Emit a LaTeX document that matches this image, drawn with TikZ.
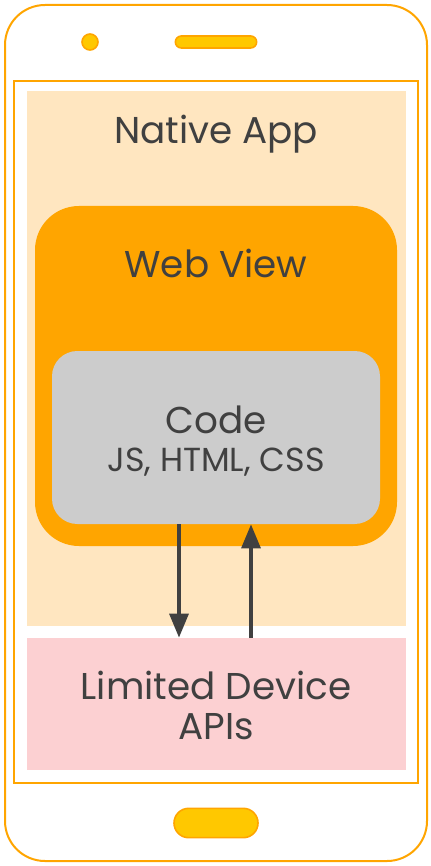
\documentclass[tikz,border=0pt]{standalone}
\usepackage{fontspec}
\setmainfont{Poppins}
\usepackage{tikz}
\usetikzlibrary{arrows.meta, calc, positioning}

\definecolor{phoneorange}{HTML}{FFA500}
\definecolor{appbg}{HTML}{FFE6C0}
\definecolor{codegray}{HTML}{CCCCCC}
\definecolor{apipink}{HTML}{FCD0D2}
\definecolor{btnyellow}{HTML}{FFC800}
\definecolor{txtgray}{HTML}{404040}

\tikzset{
    box/.style={rectangle, draw=none, inner sep=0pt},
    label/.style={text=txtgray, font=\fontsize{28}{32}\selectfont},
    small/.style={text=txtgray, font=\fontsize{25}{29}\selectfont},
    knob/.style={fill=btnyellow, draw=phoneorange, line width=1.2pt},
    flow/.style={draw=txtgray, line width=3pt, -{Triangle[width=14pt, length=18pt]}}
}

\begin{document}
\begin{tikzpicture}[x=0.75pt, y=-0.75pt]
                        \useasboundingbox (0,0) rectangle (431,866);
                        \draw[phoneorange, line width=1.5pt, rounded corners=30pt]
                        (5,5) rectangle (427,861);
                        \draw[phoneorange, line width=1.5pt] (14,81) rectangle (418,783);
                        \node[box, fill=appbg, minimum width=284.25pt, minimum height=401.25pt] (app) at (216.5,358.5) {};
                        \node[box, fill=phoneorange, rounded corners=33pt, minimum width=271.5pt, minimum height=255pt] (web) at (216,376) {};
                        \node[box, fill=codegray, rounded corners=19pt, minimum width=246pt, minimum height=129.75pt] (code) at (216,437.5) {};
                        \node[box, fill=apipink, minimum width=284.25pt, minimum height=99pt] (api) at (216.5,704) {};
                        \node[label] (apptxt) at (216,134) {Native App};
                        \node[label] (webtxt) at (216,263) {Web View};
                        \node[label] (codetxt) at (216,420) {Code};
                        \node[small] (langs) at (216,462) {JS, HTML, CSS};
                        \node[label, align=center] (apitxt) at (216,705) {Limited Device\\[-2pt]APIs};
                        \node[knob, circle, minimum size=12pt, inner sep=0pt] (cam) at (90,42) {};
                        \node[knob, rounded corners=4.5pt, minimum width=61pt, minimum height=9pt, inner sep=0pt] (speaker) at (216,42) {};
                        \node[knob, rounded corners=11pt, minimum width=63pt, minimum height=22pt, inner sep=0pt] (home) at (216,823) {};
                        \coordinate (dn) at (179,0);
                        \coordinate (up) at (251,0);
                        \draw[flow] (code.south -| dn) -- (api.north -| dn);
                        \draw[flow] (api.north -| up) -- (code.south -| up);
                    \end{tikzpicture}
\end{document}
